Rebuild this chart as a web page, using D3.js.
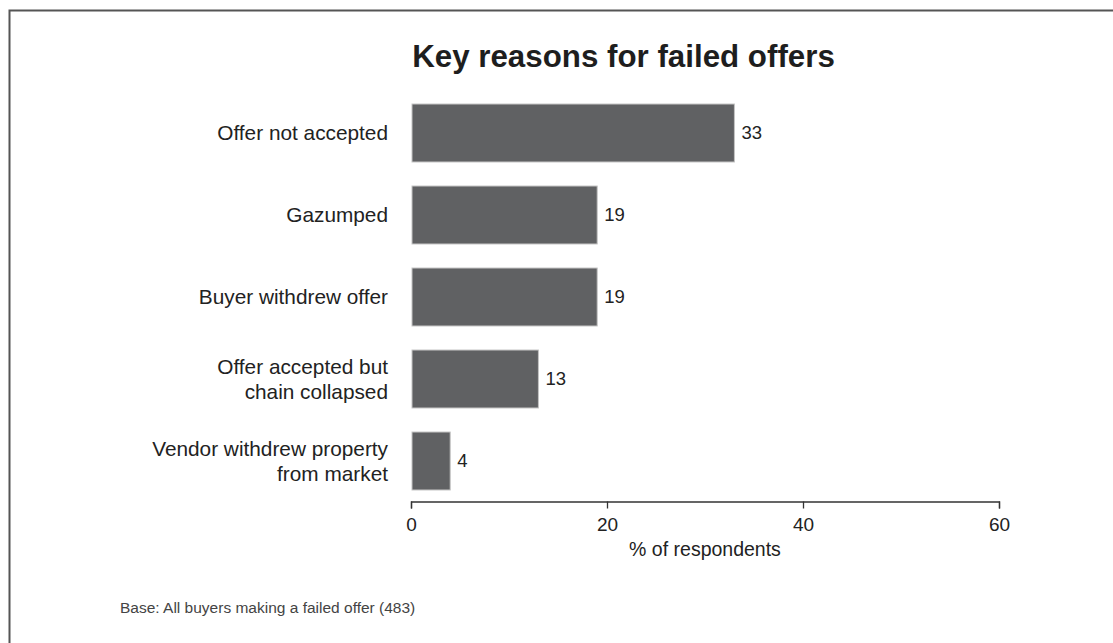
<!DOCTYPE html>
<html>
<head>
<meta charset="utf-8">
<script src="https://cdn.jsdelivr.net/npm/d3@7"></script>
<style>
  html, body { margin: 0; padding: 0; background: #fff; }
  svg text { font-family: "Liberation Sans", Arial, Helvetica, sans-serif; }
</style>
</head>
<body>
<svg id="chart" width="1113" height="643"></svg>
<script>
// data
const reasons = [
  ['Offer not accepted'],
  ['Gazumped'],
  ['Buyer withdrew offer'],
  ['Offer accepted but', 'chain collapsed'],
  ['Vendor withdrew property', 'from market']
];
const shares = [33, 19, 19, 13, 4];
const xTicks = [0, 20, 40, 60];

const chartTitle = 'Key reasons for failed offers';
const xLabel = '% of respondents';
const baseNote = 'Base: All buyers making a failed offer (483)';

const svg = d3.select('#chart');
const W = 1113, H = 643;

// frame (only top and left edges are visible in the source)
svg.append('rect')
  .attr('x', 9.5).attr('y', 10.5)
  .attr('width', W + 20).attr('height', H + 20)
  .attr('fill', 'none')
  .attr('stroke', '#555')
  .attr('stroke-width', 2);

const plotLeft = 411, plotRight = 999;
const plotTop = 92, plotBottom = 502;

const xScale = d3.scaleLinear().domain([0, 60]).range([plotLeft, plotRight]);
const yScale = d3.scaleBand()
  .domain(d3.range(reasons.length))
  .range([plotTop, plotBottom])
  .paddingInner(0.293)
  .paddingOuter(0.1465);

// title
svg.append('text')
  .attr('x', 623.5).attr('y', 67)
  .attr('text-anchor', 'middle')
  .attr('font-size', 31.3)
  .attr('font-weight', 'bold')
  .attr('fill', '#1e1e1e')
  .text(chartTitle);

// bars
svg.selectAll('.bar')
  .data(shares)
  .enter()
  .append('rect')
  .attr('class', 'bar')
  .attr('x', xScale(0) + 1)
  .attr('y', (d, i) => yScale(i))
  .attr('width', d => xScale(d) - xScale(0) - 1)
  .attr('height', yScale.bandwidth())
  .attr('fill', '#606163')
  .attr('stroke', '#c4c4c4')
  .attr('stroke-width', 1);

// value labels
svg.selectAll('.val')
  .data(shares)
  .enter()
  .append('text')
  .attr('class', 'val')
  .attr('x', d => xScale(d) + 7)
  .attr('y', (d, i) => yScale(i) + yScale.bandwidth() / 2)
  .attr('dy', '0.35em')
  .attr('font-size', 18.5)
  .attr('fill', '#222')
  .text(d => d);

// category labels
const cats = svg.selectAll('.cat')
  .data(reasons)
  .enter()
  .append('text')
  .attr('class', 'cat')
  .attr('text-anchor', 'end')
  .attr('font-size', 20.8)
  .attr('fill', '#222');

cats.each(function (lines, i) {
  const cy = yScale(i) + yScale.bandwidth() / 2;
  const lh = 25;
  const y0 = cy - (lines.length - 1) * lh / 2;
  d3.select(this).selectAll('tspan')
    .data(lines)
    .enter()
    .append('tspan')
    .attr('x', 388)
    .attr('y', (d, j) => y0 + j * lh)
    .attr('dy', '0.35em')
    .text(d => d);
});

// x axis
const xAxis = d3.axisBottom(xScale)
  .tickValues(xTicks)
  .tickSize(7)
  .tickPadding(9);

const axisG = svg.append('g')
  .attr('transform', `translate(0, ${plotBottom - 0.5})`)
  .call(xAxis);
axisG.select('.domain').attr('stroke', '#333').attr('stroke-width', 1.3);
axisG.selectAll('.tick line').attr('stroke', '#333').attr('stroke-width', 1.3);
axisG.selectAll('.tick text')
  .attr('font-size', 19)
  .attr('fill', '#222')
  .style('font-family', '"Liberation Sans", Arial, sans-serif');

svg.append('text')
  .attr('x', (plotLeft + plotRight) / 2)
  .attr('y', 556)
  .attr('text-anchor', 'middle')
  .attr('font-size', 19.5)
  .attr('fill', '#222')
  .text(xLabel);

// footnote
svg.append('text')
  .attr('x', 120)
  .attr('y', 613)
  .attr('font-size', 15.5)
  .attr('fill', '#444')
  .text(baseNote);
</script>
</body>
</html>
